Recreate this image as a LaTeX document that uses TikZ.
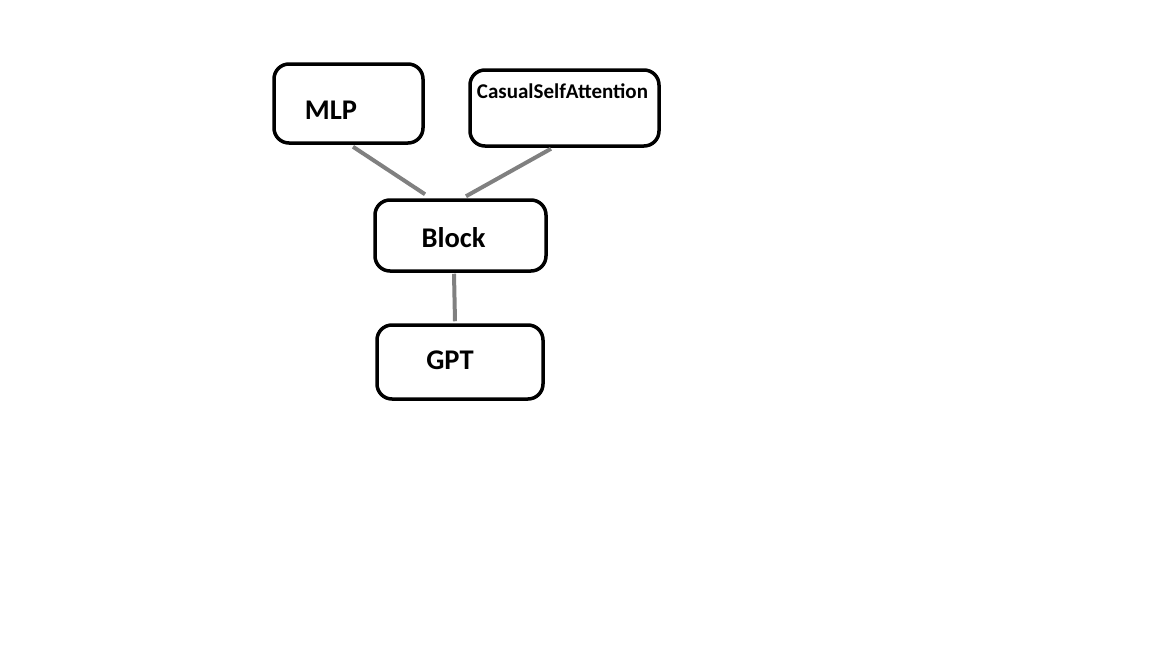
\documentclass[tikz,border=0pt]{standalone}
\usepackage{fontspec}
\setmainfont{Carlito}
\usetikzlibrary{positioning}

\begin{document}
\begin{tikzpicture}
[x=1pt, y=-1pt,
every node/.style = {align=center}]
\tikzstyle{box} = [rectangle, draw=black, line width=3.5pt, rounded corners=15pt, inner sep=0pt]
\tikzstyle{boxtext} = [font=\bfseries\fontsize{28.5}{32}\selectfont, inner sep=0pt]
\tikzstyle{link} = [draw=gray, line width=4pt]

\useasboundingbox (0,0) rectangle (1152,648);

% boxes
\node[box, minimum width=149pt, minimum height=79pt] (mlp) at (348.5,103.5) {};
\node[box, minimum width=189pt, minimum height=76pt] (csa) at (564.5,108) {};
\node[box, minimum width=171pt, minimum height=71pt] (blk) at (460.5,235.5) {};
\node[box, minimum width=166pt, minimum height=74pt] (gpt) at (460,362) {};

% texts
\node[boxtext] (mlptext) at ([shift={(-17.5pt,-6.5pt)}]mlp.center) {MLP};
\node[boxtext, font=\bfseries\fontsize{21}{24}\selectfont] (csatext) at ([shift={(-2pt,17pt)}]csa.center) {CasualSelfAttention};
\node[boxtext] (blktext) at ([shift={(-7pt,-2.5pt)}]blk.center) {Block};
\node[boxtext] (gpttext) at ([shift={(-10pt,2pt)}]gpt.center) {GPT};

% links
\draw[link] ([shift={(4.5pt,-2pt)}]mlp.south) -- ([shift={(-35.5pt,4pt)}]blk.north);
\draw[link] ([shift={(-13.5pt,-1pt)}]csa.south) -- ([shift={(5.5pt,2pt)}]blk.north);
\draw[link] ([shift={(-6.5pt,-1pt)}]blk.south) -- ([shift={(-5pt,2pt)}]gpt.north);

\end{tikzpicture}
\end{document}
